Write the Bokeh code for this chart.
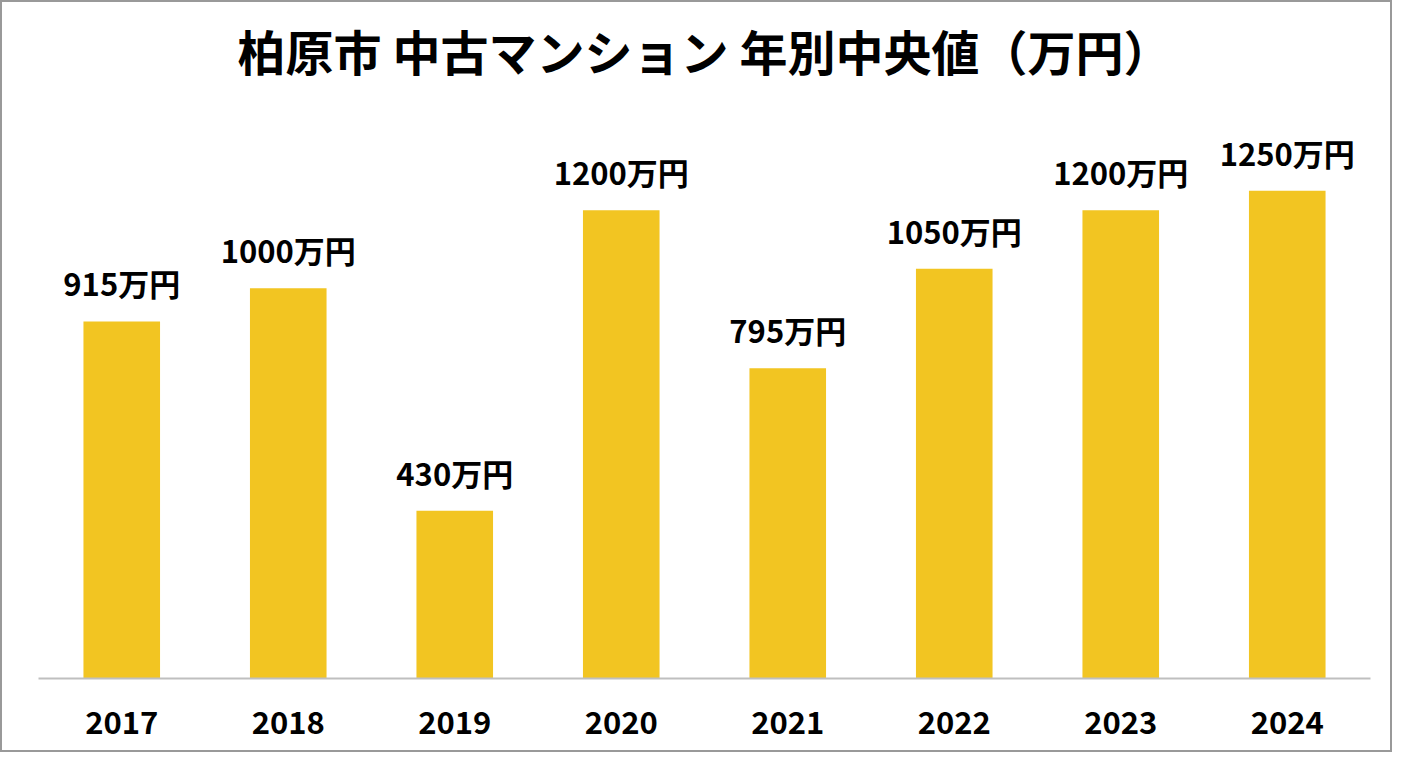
from bokeh.plotting import figure
from bokeh.models import ColumnDataSource, Title
from bokeh.core.properties import value
from bokeh.embed import file_html
from bokeh.resources import INLINE

years = ["2017", "2018", "2019", "2020", "2021", "2022", "2023", "2024"]
prices = [915, 1000, 430, 1200, 795, 1050, 1200, 1250]
labels = [f"{v}万円" for v in prices]
title_text = "柏原市 中古マンション 年別中央値（万円）"

FONT = "Noto Sans CJK JP"
src = ColumnDataSource(dict(x=years, top=prices, label=labels))

p = figure(x_range=years, y_range=(0, 1522), width=1392, height=752,
           output_backend="svg", toolbar_location=None,
           min_border_left=36, min_border_right=24, min_border_bottom=76,
           min_border_top=82)
p.x_range.range_padding = 0
p.title = Title(text=title_text, align="center", text_font=FONT,
                text_font_size="48px", text_font_style="bold", text_color="#000000",
                offset=-22, standoff=0)
p.vbar(x="x", top="top", width=0.46, source=src, color="#F2C522", line_color=None)
p.text(x="x", y="top", text="label", source=src, text_align="center",
       text_baseline="bottom", y_offset=-16, text_font=value(FONT),
       text_font_size="31px", text_font_style="bold", text_color="#000000")

p.yaxis.visible = False
p.xgrid.visible = False
p.ygrid.visible = False
p.outline_line_color = None
p.xaxis.axis_line_color = "#BFBFBF"
p.xaxis.axis_line_width = 2
p.xaxis.major_tick_line_color = None
p.xaxis.minor_tick_line_color = None
p.xaxis.major_label_standoff = 26
p.xaxis.major_label_text_font = FONT
p.xaxis.major_label_text_font_size = "31px"
p.xaxis.major_label_text_font_style = "bold"
p.xaxis.major_label_text_color = "#000000"
p.styles = {"border": "2px solid #999999", "box-sizing": "border-box"}

open("out.html", "w").write(file_html(p, INLINE))
